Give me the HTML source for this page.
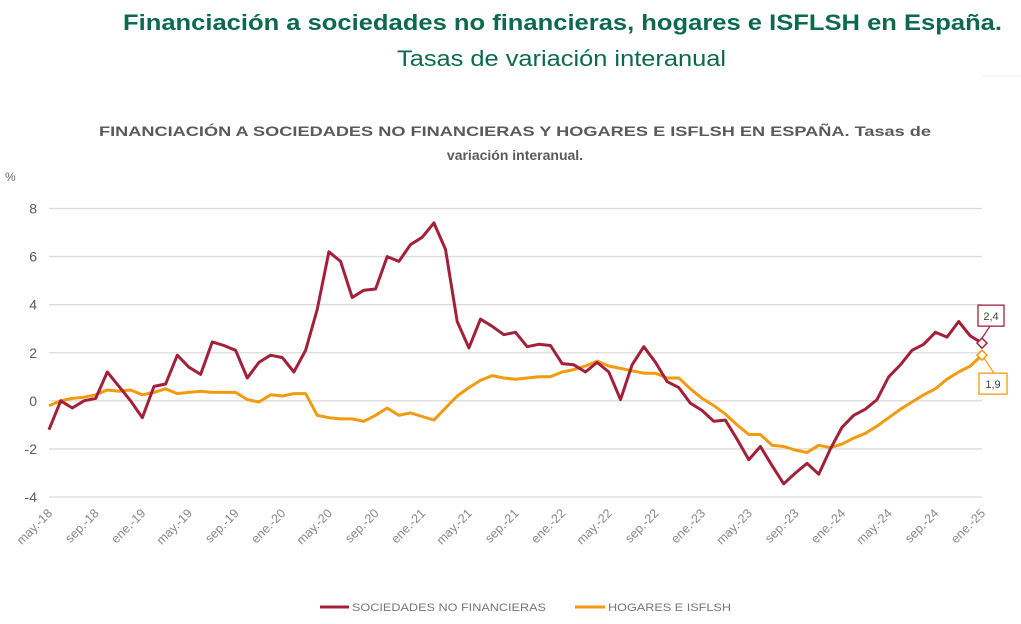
<!DOCTYPE html>
<html><head><meta charset="utf-8"><style>
html,body{margin:0;padding:0;background:#fff;}
svg{display:block;font-family:"Liberation Sans",sans-serif;}
</style></head><body>
<svg id="chart" width="1021" height="624" viewBox="0 0 1021 624" xmlns="http://www.w3.org/2000/svg">
<text x="123" y="30" font-size="22" font-weight="bold" fill="#0b6a4c" textLength="879" lengthAdjust="spacingAndGlyphs">Financiación a sociedades no financieras, hogares e ISFLSH en España.</text>
<text x="397" y="66" font-size="22" fill="#0b6a4c" textLength="329" lengthAdjust="spacingAndGlyphs">Tasas de variación interanual</text>
<line x1="982" y1="76" x2="1021" y2="76" stroke="#eee" stroke-width="1"/>
<text x="99" y="136" font-size="14" font-weight="bold" fill="#5a5a5a" textLength="832" lengthAdjust="spacingAndGlyphs">FINANCIACIÓN A SOCIEDADES NO FINANCIERAS Y HOGARES E ISFLSH EN ESPAÑA. Tasas de</text>
<text x="515" y="160" font-size="14" font-weight="bold" fill="#5a5a5a" text-anchor="middle">variación interanual.</text>
<text x="5" y="181" font-size="12" fill="#666">%</text>
<g id="grid"></g>
<g id="xlabels"></g>
<g id="series"></g>
<g id="annot"></g>
<line x1="320" y1="607" x2="349" y2="607" stroke="#a3203a" stroke-width="3"/>
<text x="352" y="611" font-size="11" fill="#777" textLength="194" lengthAdjust="spacingAndGlyphs">SOCIEDADES NO FINANCIERAS</text>
<line x1="575" y1="607" x2="605" y2="607" stroke="#f39a10" stroke-width="3"/>
<text x="608" y="611" font-size="11" fill="#777" textLength="123" lengthAdjust="spacingAndGlyphs">HOGARES E ISFLSH</text>
</svg>
<script>
const yTicks = [8, 6, 4, 2, 0, -2, -4];
const xTickLabels = ["may.-18","sep.-18","ene.-19","may.-19","sep.-19","ene.-20","may.-20","sep.-20","ene.-21","may.-21","sep.-21","ene.-22","may.-22","sep.-22","ene.-23","may.-23","sep.-23","ene.-24","may.-24","sep.-24","ene.-25"];
const sociedades = [-1.2,0.0,-0.3,0.0,0.1,1.2,0.6,0.0,-0.7,0.6,0.7,1.9,1.4,1.1,2.45,2.3,2.1,0.95,1.6,1.9,1.8,1.2,2.1,3.8,6.2,5.8,4.3,4.6,4.65,6.0,5.8,6.5,6.8,7.4,6.3,3.3,2.2,3.4,3.1,2.75,2.85,2.25,2.35,2.3,1.55,1.5,1.2,1.6,1.2,0.05,1.5,2.25,1.6,0.8,0.55,-0.1,-0.4,-0.85,-0.8,-1.6,-2.45,-1.9,-2.7,-3.45,-3.0,-2.6,-3.05,-2.0,-1.1,-0.6,-0.35,0.05,1.0,1.5,2.1,2.35,2.85,2.65,3.3,2.7,2.4];
const hogares = [-0.2,0.0,0.1,0.15,0.25,0.45,0.4,0.45,0.25,0.35,0.5,0.3,0.35,0.4,0.35,0.35,0.35,0.05,-0.05,0.25,0.2,0.3,0.3,-0.6,-0.7,-0.75,-0.75,-0.85,-0.6,-0.3,-0.6,-0.5,-0.65,-0.8,-0.3,0.2,0.55,0.85,1.05,0.95,0.9,0.95,1.0,1.0,1.2,1.3,1.45,1.65,1.45,1.35,1.25,1.15,1.15,0.95,0.95,0.5,0.1,-0.2,-0.55,-1.0,-1.4,-1.4,-1.85,-1.9,-2.05,-2.15,-1.85,-1.95,-1.8,-1.55,-1.35,-1.05,-0.7,-0.35,-0.05,0.25,0.5,0.9,1.2,1.45,1.9];
const lastLabels = ["2,4","1,9"];

const NS = "http://www.w3.org/2000/svg";
const x0 = 49, x1 = 982, y8 = 208.5, yM4 = 497;
const nPts = sociedades.length;
function xs(i){ return x0 + (x1 - x0) * i / (nPts - 1); }
function ys(v){ return y8 + (8 - v) * (yM4 - y8) / 12; }
function mk(tag, attrs, parent){ const e = document.createElementNS(NS, tag); for (const k in attrs) e.setAttribute(k, attrs[k]); parent.appendChild(e); return e; }

const grid = document.getElementById('grid');
yTicks.forEach(t => {
  const l = mk('line', {x1: x0, x2: x1, y1: ys(t), y2: ys(t), stroke: '#dcdcdc', 'stroke-width': 1.3}, grid);
  
  
  const tx = mk('text', {x: 37, y: ys(t) + 5, 'font-size': 14, fill: '#5a5a5a', 'text-anchor': 'end'}, grid);
  tx.textContent = String(t);
  
  
});

const xl = document.getElementById('xlabels');
xTickLabels.forEach((lab, k) => {
  const x = xs(k * 4) + 4, y = 514;
  const tx = mk('text', {x: x, y: y, 'font-size': 12.5, fill: '#888', 'text-anchor': 'end', transform: 'rotate(-45 ' + x + ' ' + y + ')'}, xl);
  tx.textContent = lab;
  
  
});

const sg = document.getElementById('series');
function pts(arr){ return arr.map((v, i) => xs(i).toFixed(1) + ',' + ys(v).toFixed(1)).join(' '); }
const ph = mk('polyline', {points: pts(hogares), fill: 'none', stroke: '#f39a10', 'stroke-width': 3, 'stroke-linejoin': 'round'}, sg);


const ps = mk('polyline', {points: pts(sociedades), fill: 'none', stroke: '#a3203a', 'stroke-width': 3, 'stroke-linejoin': 'round'}, sg);



const an = document.getElementById('annot');
const lx = xs(nPts - 1);
const sy = ys(sociedades[nPts - 1]), hy = ys(hogares[nPts - 1]);
function marker(y, color, name){
  const d = mk('path', {d: 'M' + lx + ' ' + (y - 5) + ' L' + (lx + 5) + ' ' + y + ' L' + lx + ' ' + (y + 5) + ' L' + (lx - 5) + ' ' + y + ' Z', fill: '#fff', stroke: color, 'stroke-width': 1.5}, an);
  
  
}
marker(hy, '#f39a10', 'marker-hogares-last');
marker(sy, '#a3203a', 'marker-sociedades-last');
const c1 = mk('line', {x1: lx, y1: sy - 5, x2: lx + 8, y2: sy - 17, stroke: '#a3203a', 'stroke-width': 1.2}, an);


const b1 = mk('rect', {x: lx - 4, y: sy - 38, width: 26, height: 21, fill: '#fff', stroke: '#a3203a', 'stroke-width': 1.3}, an);


const t1 = mk('text', {x: lx + 9, y: sy - 23, 'font-size': 11, fill: '#444', 'text-anchor': 'middle'}, an);
t1.textContent = lastLabels[0];


const c2 = mk('line', {x1: lx + 2, y1: hy + 3, x2: lx + 12, y2: hy + 18, stroke: '#f39a10', 'stroke-width': 1.2}, an);


const b2 = mk('rect', {x: lx - 3, y: hy + 18, width: 28, height: 21, fill: '#fff', stroke: '#f39a10', 'stroke-width': 1.3}, an);


const t2 = mk('text', {x: lx + 11, y: hy + 33, 'font-size': 11, fill: '#444', 'text-anchor': 'middle'}, an);
t2.textContent = lastLabels[1];


</script>
</body></html>
